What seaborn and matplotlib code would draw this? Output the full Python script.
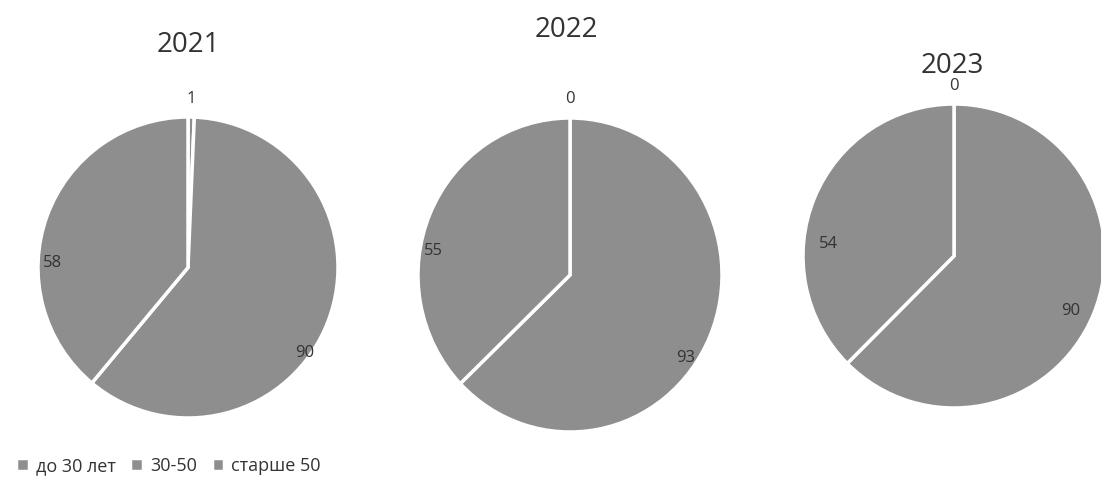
import matplotlib
matplotlib.use("Agg")
import matplotlib.pyplot as plt
import seaborn as sns

years = ["2021", "2022", "2023"]
categories = ["до 30 лет", "30-50", "старше 50"]
values_2021 = [1, 90, 58]
values_2022 = [0, 93, 55]
values_2023 = [0, 90, 54]
all_values = [values_2021, values_2022, values_2023]

sns.set_theme(style="white")
plt.rcParams['font.family'] = ['Open Sans', 'DejaVu Sans']

palette = ["#8e8e8e", "#8e8e8e", "#8e8e8e"]

W, H = 1101, 492
fig = plt.figure(figsize=(W / 100, H / 100), dpi=100)

# pixel boxes (x0, y0_top, x1, y1_bottom) for each pie
boxes = [(38, 117, 338, 418), (418, 118, 722, 432), (803, 104, 1105, 408)]
title_pos = [(188, 45), (566, 30), (952, 66)]
# label placement (axes units, in style only) for the two large slices
big_label_pos = [[(0.78, -0.57), (-0.9, 0.03)],
                 [(0.76, -0.53), (-0.9, 0.15)],
                 [(0.77, -0.36), (-0.83, 0.08)]]

wedges_first = None
for vals, yr, box, tp, lp in zip(all_values, years, boxes, title_pos, big_label_pos):
    x0, y0, x1, y1 = box
    ax = fig.add_axes([x0 / W, 1 - y1 / H, (x1 - x0) / W, (y1 - y0) / H])
    wedges, texts = ax.pie(
        vals, labels=[str(v) for v in vals], colors=palette,
        startangle=90, counterclock=False,
        labeldistance=1.12,
        wedgeprops=dict(edgecolor="white", linewidth=2.5),
        textprops=dict(fontsize=12, color="#333333"),
    )
    for t in texts:
        t.set_ha("center")
        t.set_va("center")
    texts[1].set_position(lp[0])
    texts[2].set_position(lp[1])
    ax.set_aspect("auto")
    ax.set_xlim(-1, 1)
    ax.set_ylim(-1, 1)
    ax.axis("off")
    fig.text(tp[0] / W, 1 - tp[1] / H, yr, ha="center", va="center",
             fontsize=20, color="#333333")
    if wedges_first is None:
        wedges_first = wedges

fig.legend(wedges_first, categories, loc="center left",
           bbox_to_anchor=(0.0, 1 - 466 / H), ncol=3, frameon=False,
           fontsize=13, handlelength=0.7, handleheight=0.7,
           handletextpad=0.4, columnspacing=0.8, labelcolor="#333333")

fig.savefig("out.png", dpi=100)
